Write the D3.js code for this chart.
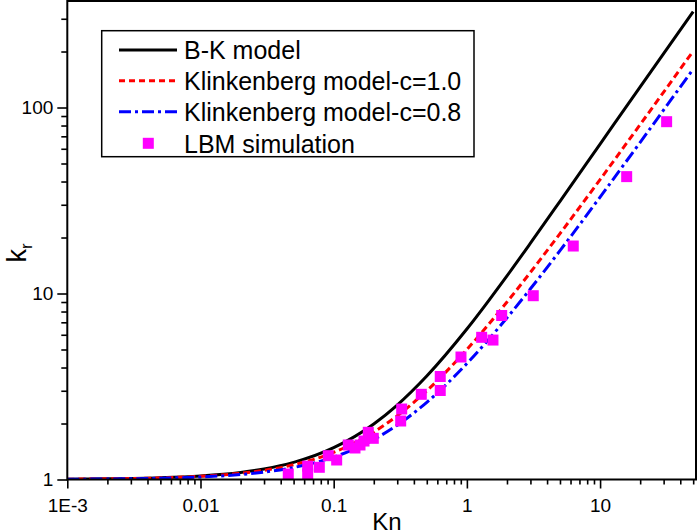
<!DOCTYPE html>
<html>
<head>
<meta charset="utf-8">
<script src="https://cdn.jsdelivr.net/npm/d3@7/dist/d3.min.js"></script>
<style>
  html, body { margin: 0; padding: 0; background: #fff; }
  svg { display: block; font-family: "Liberation Sans", Arial, Helvetica, sans-serif; }
</style>
</head>
<body>
<svg id="chart" width="700" height="532"></svg>
<script>
// ---- data ----
const knGrid = [0.001, 0.002, 0.005, 0.01, 0.02, 0.03, 0.05, 0.1, 0.2, 0.3, 0.5, 1, 2, 3, 5, 10, 20, 50];
const bkModel = [1.004, 1.0085, 1.022, 1.045, 1.091, 1.139, 1.236, 1.483, 1.99, 2.515, 3.60, 6.44, 12.44, 18.64, 31.3, 63.6, 129.2, 328];
const klinkC10 = [1.004, 1.008, 1.02, 1.04, 1.08, 1.12, 1.2, 1.4, 1.8, 2.2, 3, 5, 9, 13, 21, 41, 81, 201];
const klinkC08 = [1.0032, 1.0064, 1.016, 1.032, 1.064, 1.096, 1.16, 1.32, 1.64, 1.96, 2.6, 4.2, 7.4, 10.6, 17, 33, 65, 161];

const lbmKn = [0.0456, 0.0638, 0.0638, 0.078, 0.091, 0.1053, 0.1287, 0.1445, 0.1576, 0.1689, 0.1819, 0.1983,
               0.3184, 0.324, 0.4547, 0.631, 0.631, 0.903, 1.291, 1.57, 1.825, 3.15, 6.29, 15.84, 31.6];
const lbmKr = [1.07, 1.18, 1.07, 1.163, 1.343, 1.273, 1.533, 1.477, 1.533, 1.61, 1.794, 1.665,
               2.063, 2.393, 2.871, 3.58, 3.01, 4.556, 5.814, 5.62, 7.615, 9.73, 18.0, 42.5, 83.9];

const xMajorTicks = [0.001, 0.01, 0.1, 1, 10];
const xTickLabels = ["1E-3", "0.01", "0.1", "1", "10"];
const yMajorTicks = [1, 10, 100];
const yTickLabels = ["1", "10", "100"];

const seriesNames = ["B-K model", "Klinkenberg model-c=1.0", "Klinkenberg model-c=0.8", "LBM simulation"];

// ---- layout ----
const svg = d3.select("#chart");
const L = 67.3, R = 696, T = 1, B = 479.5;

const x = d3.scaleLog().domain([0.001, 52.5]).range([L, R]);
const y = d3.scaleLog().domain([1, 373.8]).range([B, T]);

// minor ticks
const xMinor = [];
for (let e = -3; e <= 1; e++) for (let m = 2; m <= 9; m++) { const v = m * Math.pow(10, e); if (v <= 52.5) xMinor.push(v); }
const yMinor = [];
for (let e = 0; e <= 2; e++) for (let m = 2; m <= 9; m++) { const v = m * Math.pow(10, e); if (v <= 373) yMinor.push(v); }

const fontTick = 19;

// X axis
const gx = svg.append("g").attr("transform", `translate(0,${B})`);
gx.call(d3.axisBottom(x).tickValues(xMinor).tickSize(5).tickFormat(""));
gx.call(g => g.select(".domain").remove());
const gx2 = svg.append("g").attr("transform", `translate(0,${B})`);
gx2.call(d3.axisBottom(x).tickValues(xMajorTicks).tickSize(9).tickPadding(10)
  .tickFormat((d, i) => xTickLabels[i]));
gx2.call(g => g.select(".domain").remove());
gx2.selectAll("text").attr("font-size", fontTick).attr("fill", "#000")
  .attr("font-family", "'Liberation Sans', Arial, sans-serif");
svg.selectAll(".tick line").attr("stroke", "#000").attr("stroke-width", 1.6);

// Y axis
const gy = svg.append("g").attr("transform", `translate(${L},0)`);
gy.call(d3.axisLeft(y).tickValues(yMinor).tickSize(6).tickFormat(""));
gy.call(g => g.select(".domain").remove());
const gy2 = svg.append("g").attr("transform", `translate(${L},0)`);
gy2.call(d3.axisLeft(y).tickValues(yMajorTicks).tickSize(10).tickPadding(4)
  .tickFormat((d, i) => yTickLabels[i]));
gy2.call(g => g.select(".domain").remove());
gy2.selectAll("text").attr("font-size", fontTick).attr("fill", "#000")
  .attr("font-family", "'Liberation Sans', Arial, sans-serif");
svg.selectAll(".tick line").attr("stroke", "#000").attr("stroke-width", 1.6);

// clip
svg.append("clipPath").attr("id", "plotclip")
  .append("rect").attr("x", L).attr("y", T).attr("width", R - L).attr("height", B - T);

const plot = svg.append("g").attr("clip-path", "url(#plotclip)");

const line = d3.line().x(d => x(d[0])).y(d => y(d[1])).curve(d3.curveMonotoneX);

const lineStyles = [
  { data: bkModel, color: "#000000", dash: null },
  { data: klinkC10, color: "#ff0000", dash: "7,4" },
  { data: klinkC08, color: "#0000ff", dash: "12,4,3,4" }
];
lineStyles.forEach(s => {
  plot.append("path")
    .datum(knGrid.map((k, i) => [k, s.data[i]]))
    .attr("d", line)
    .attr("fill", "none")
    .attr("stroke", s.color)
    .attr("stroke-width", 3)
    .attr("stroke-dasharray", s.dash);
});

// LBM squares
const sq = 11;
plot.selectAll("rect.lbm")
  .data(lbmKn.map((k, i) => [k, lbmKr[i]]))
  .enter().append("rect")
  .attr("class", "lbm")
  .attr("x", d => x(d[0]) - sq / 2)
  .attr("y", d => y(d[1]) - sq / 2)
  .attr("width", sq).attr("height", sq)
  .attr("fill", "#ff00ff");

// frame
svg.append("rect").attr("x", L).attr("y", T).attr("width", R - L).attr("height", B - T)
  .attr("fill", "none").attr("stroke", "#000").attr("stroke-width", 2);

// axis titles
svg.append("text").attr("x", 387).attr("y", 530).attr("text-anchor", "middle")
  .attr("font-size", 24).attr("fill", "#000").text("Kn");

const yl = svg.append("text").attr("transform", "translate(26,253) rotate(-90)")
  .attr("text-anchor", "middle").attr("font-size", 27).attr("fill", "#000");
yl.append("tspan").text("k");
yl.append("tspan").attr("font-size", 17).attr("dy", 6).text("r");

// legend
const lg = svg.append("g");
lg.append("rect").attr("x", 101.7).attr("y", 30.7).attr("width", 372.3).attr("height", 126)
  .attr("fill", "#fff").attr("stroke", "#000").attr("stroke-width", 1.5);
const rowY = [50, 80.7, 111.7, 143.3];
lineStyles.forEach((s, i) => {
  lg.append("line").attr("x1", 119).attr("x2", 177).attr("y1", rowY[i]).attr("y2", rowY[i])
    .attr("stroke", s.color).attr("stroke-width", 3)
    .attr("stroke-dasharray", i === 1 ? "6,4" : (i === 2 ? "12,4,3,4" : null));
});
lg.append("rect").attr("x", 148.3 - 5.5).attr("y", rowY[3] - 5.5).attr("width", 11).attr("height", 11)
  .attr("fill", "#ff00ff");
seriesNames.forEach((n, i) => {
  lg.append("text").attr("x", 184).attr("y", rowY[i] + 9.3).attr("font-size", 25)
    .attr("fill", "#000").text(n);
});
</script>
</body>
</html>
